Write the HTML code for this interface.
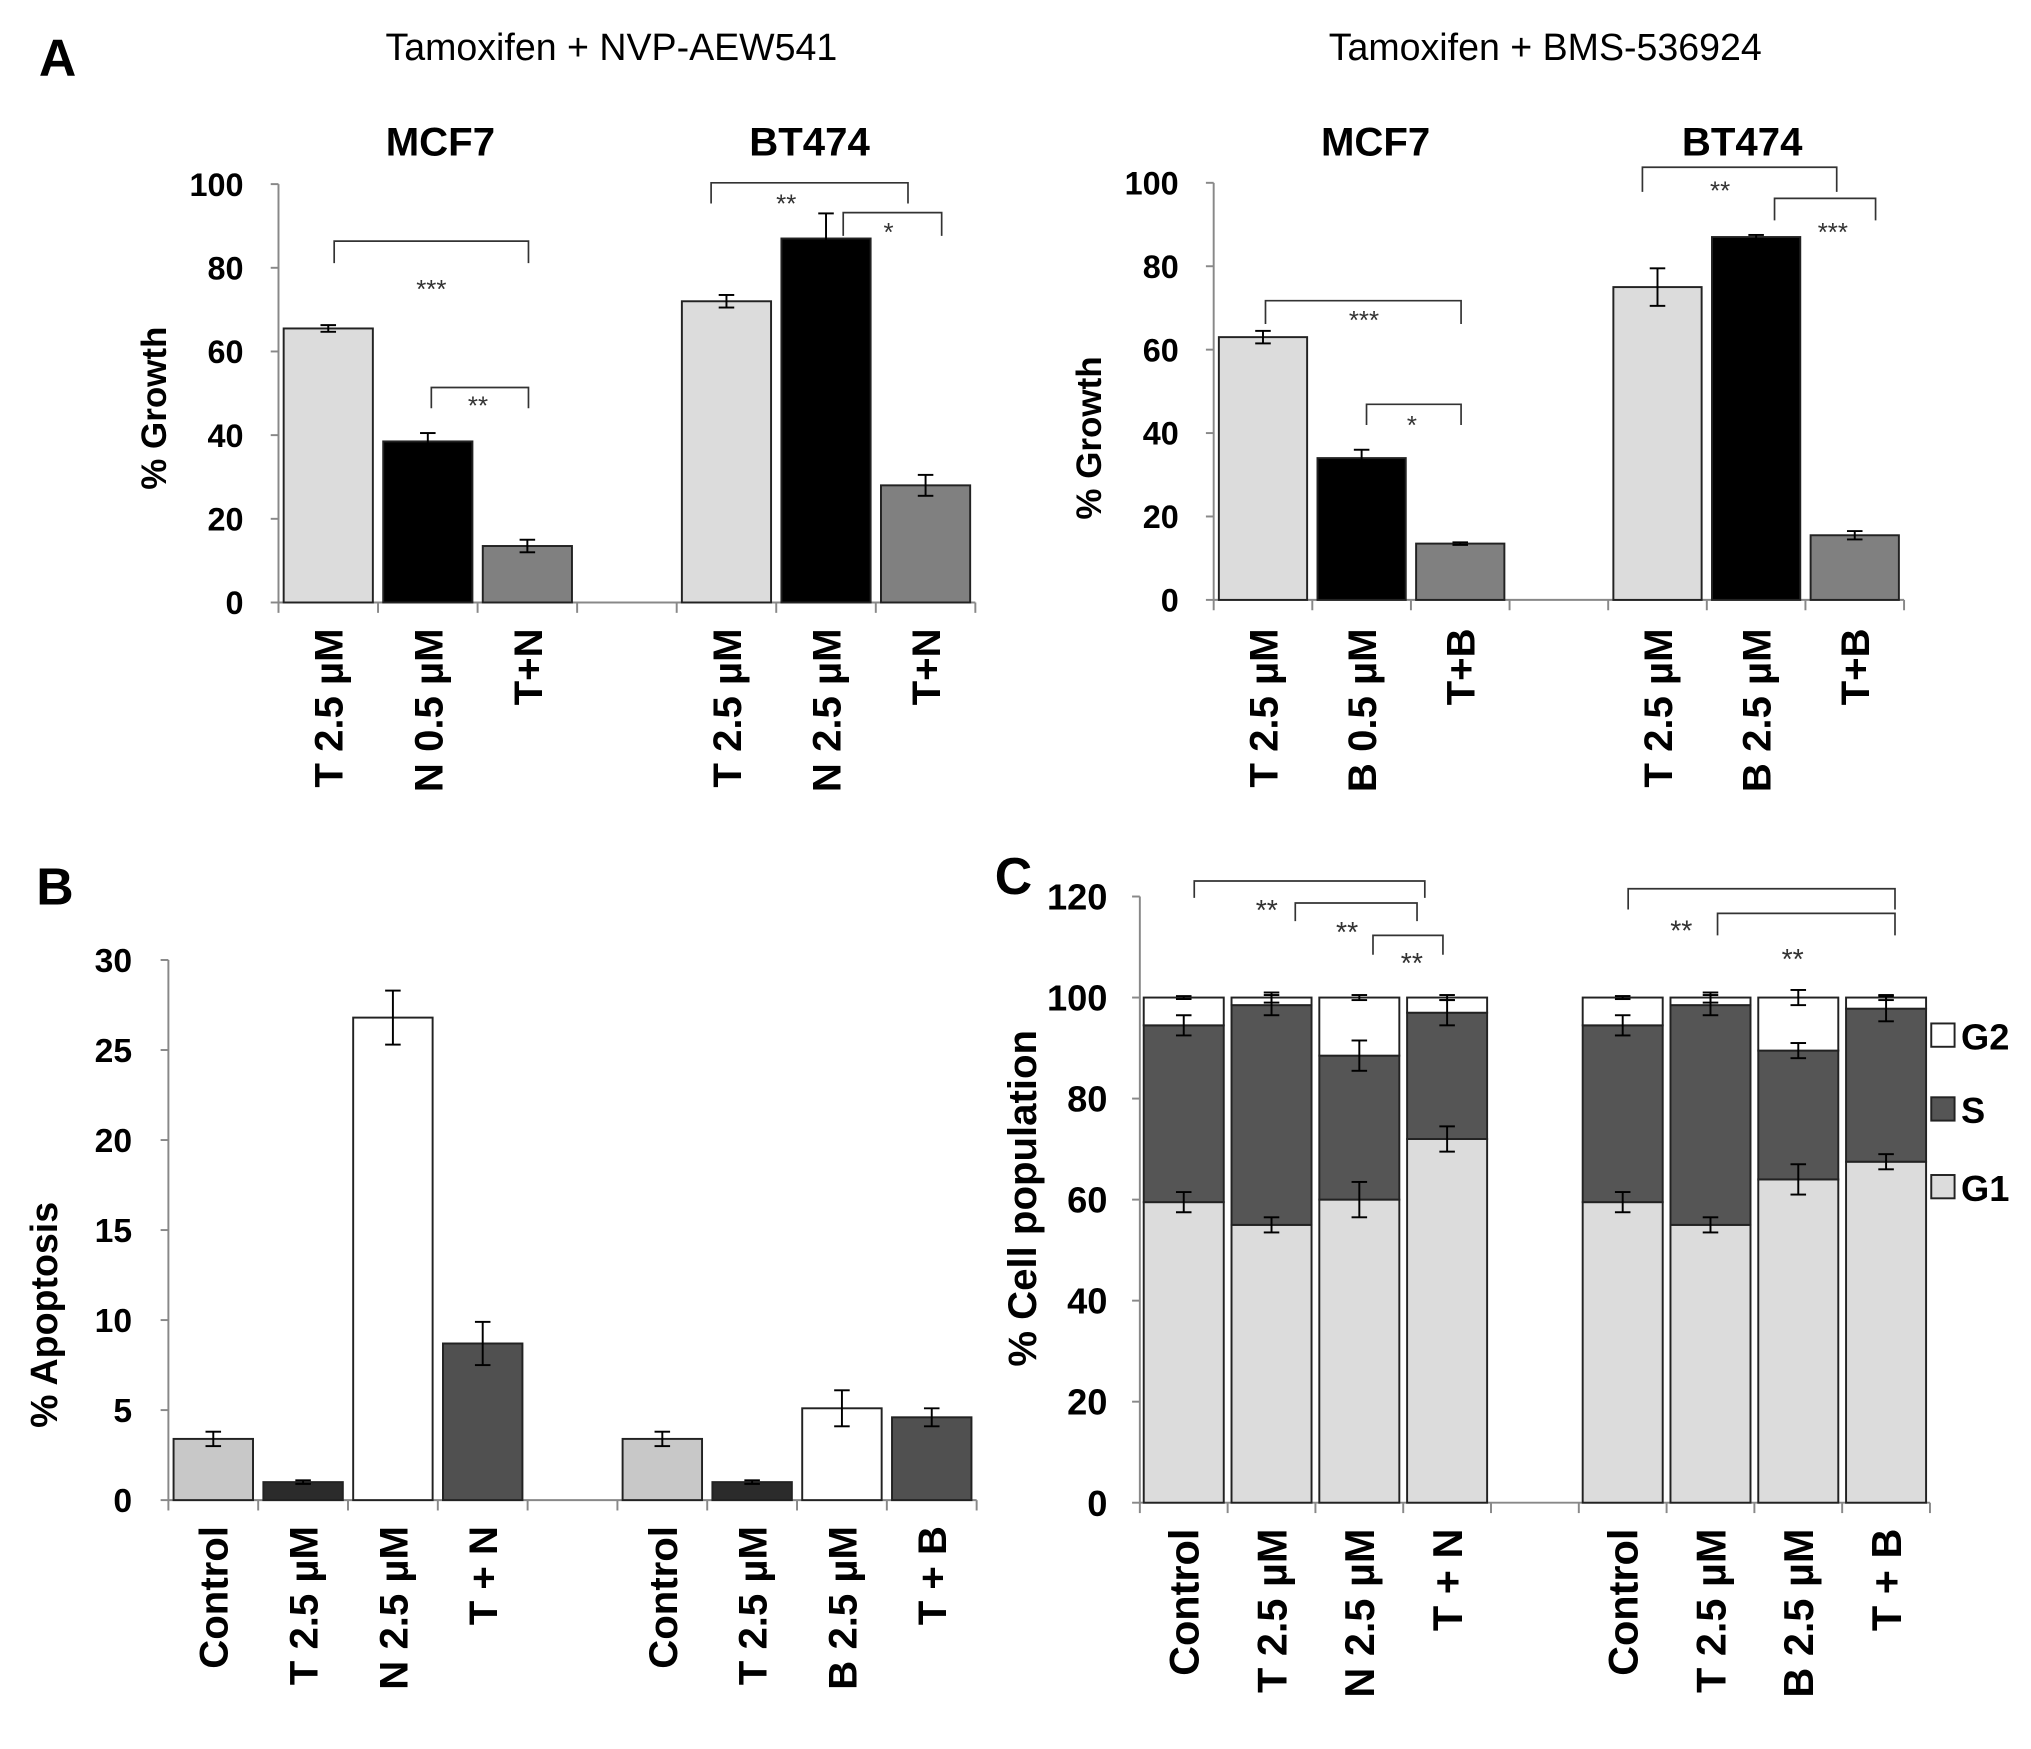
<!DOCTYPE html>
<html><head><meta charset="utf-8"><style>
html,body{margin:0;padding:0;background:#fff}
svg{display:block}
text{font-family:"Liberation Sans",Arial,sans-serif}
</style></head><body>
<svg id="fig" width="2031" height="1749" viewBox="0 0 1568 1350" xmlns="http://www.w3.org/2000/svg">
<rect width="1568" height="1350" fill="#fff"/>
<g id="root"></g>
</svg>
<script>
// ---- Panel A (left) data
const aLeftCats = ["T 2.5 µM","N 0.5 µM","T+N","","T 2.5 µM","N 2.5 µM","T+N"];
const aLeftVals = [65.5,38.5,13.5,null,72,87,28];
const aLeftErr = [0.8,2,1.5,null,1.5,6,2.5];
// ---- Panel A (right) data
const aRightCats = ["T 2.5 µM","B 0.5 µM","T+B","","T 2.5 µM","B 2.5 µM","T+B"];
const aRightVals = [63,34,13.5,null,75,87,15.5];
const aRightErr = [1.5,2,0.3,null,4.5,0.5,1];
const aTicks = [0,20,40,60,80,100];
// ---- Panel B data
const bCats = ["Control","T 2.5 µM","N 2.5 µM","T + N","","Control","T 2.5 µM","B 2.5 µM","T + B"];
const bVals = [3.4,1.0,26.8,8.7,null,3.4,1.0,5.1,4.6];
const bErr = [0.4,0.1,1.5,1.2,null,0.4,0.1,1.0,0.5];
const bTicks = [0,5,10,15,20,25,30];
// ---- Panel C data
const cCats = ["Control","T 2.5 µM","N 2.5 µM","T + N","","Control","T 2.5 µM","B 2.5 µM","T + B"];
const cG1 = [59.5,55,60,72,null,59.5,55,64,67.5];
const cS = [35,43.5,28.5,25,null,35,43.5,25.5,30.3];
const cG2 = [5.5,1.5,11.5,3,null,5.5,1.5,10.5,2.2];
const cG1Err = [2,1.5,3.5,2.5,null,2,1.5,3,1.5];
const cSErr = [2,2,3,2.5,null,2,2,1.5,2.5];
const cG2Err = [0.3,1,0.5,0.5,null,0.3,1,1.5,0.5];
const cTicks = [0,20,40,60,80,100,120];

const NS="http://www.w3.org/2000/svg";
const root=document.getElementById('root');
function el(tag,attrs,parent,text){
  const e=document.createElementNS(NS,tag);
  for(const k in attrs) e.setAttribute(k,attrs[k]);
  if(text!==undefined) e.textContent=text;
  (parent||root).appendChild(e);
  return e;
}
function errbar(g,cx,yv,ye,yfn){
  const y1=yfn(yv+ye), y2=yfn(yv-ye);
  el('line',{x1:cx,x2:cx,y1:y1,y2:y2,stroke:'#000','stroke-width':1.5},g);
  el('line',{x1:cx-6,x2:cx+6,y1:y1,y2:y1,stroke:'#000','stroke-width':1.5},g);
  el('line',{x1:cx-6,x2:cx+6,y1:y2,y2:y2,stroke:'#000','stroke-width':1.5},g);
}
function axes(g,x0,xEnd,y0,yTop,ticks,max,labelX,fs,n){
  const yfn=v=>y0-(v/max)*(y0-yTop);
  el('line',{x1:x0,x2:x0,y1:y0,y2:yTop,stroke:'#888','stroke-width':1.5},g);
  el('line',{x1:x0,x2:xEnd,y1:y0,y2:y0,stroke:'#888','stroke-width':1.5},g);
  ticks.forEach(t=>{
    el('line',{x1:x0-6,x2:x0,y1:yfn(t),y2:yfn(t),stroke:'#888','stroke-width':1.5},g);
    const tl=el('text',{x:labelX,y:yfn(t)+fs*0.36,'text-anchor':'end','font-size':fs,'font-weight':'bold'},g,String(t));
    
    
  });
  const slot=(xEnd-x0)/n;
  for(let i=0;i<=n;i++) el('line',{x1:x0+i*slot,x2:x0+i*slot,y1:y0,y2:y0+8,stroke:'#888','stroke-width':1.5},g);
  return {yfn,slot};
}
function catLabels(g,cats,x0,slot,top,fs){
  cats.forEach((c,i)=>{
    if(!c) return;
    const cx=x0+slot*(i+0.5);
    const t=el('text',{x:0,y:0,transform:`translate(${cx+fs*0.36},${top}) rotate(-90)`,'text-anchor':'end','font-size':fs,'font-weight':'bold'},g,c);
    
    
  });
}
function bracket(g,x1,x2,y,drop1,drop2,label,lx,ly,fs){
  el('path',{d:`M${x1},${y+drop1} V${y} H${x2} V${y+drop2}`,fill:'none',stroke:'#333','stroke-width':1.3},g);
  const t=el('text',{x:lx,y:ly,'text-anchor':'middle','font-size':fs||20,fill:'#333'},g,label);
  
  
}
function txt(g,x,y,s,fs,bold,anchor,name,transform){
  const a={x:x,y:y,'font-size':fs,'text-anchor':anchor||'middle'};
  if(bold) a['font-weight']='bold';
  if(transform) a.transform=transform;
  const t=el('text',a,g,s);
  
  
  return t;
}
function simpleBars(gname,cats,vals,errs,colors,x0,xEnd,y0,yTop,ticks,max,labelX,tickFs,labTop,labFs,pad){
  const g=el('g',{});
  
  
  const n=cats.length;
  const ax=axes(g,x0,xEnd,y0,yTop,ticks,max,labelX,tickFs,n);
  vals.forEach((v,i)=>{
    if(v===null) return;
    const xL=x0+ax.slot*i+pad, w=ax.slot-2*pad;
    const r=el('rect',{x:xL,y:ax.yfn(v),width:w,height:y0-ax.yfn(v),fill:colors[i],stroke:'#222','stroke-width':1.5},g);
    
    
    errbar(g,xL+w/2,v,errs[i],ax.yfn);
  });
  catLabels(g,cats,x0,ax.slot,labTop,labFs);
  return g;
}
// Panel A left
const aCol=['#dcdcdc','#000','#808080',null,'#dcdcdc','#000','#808080'];
const gAL=simpleBars('panel-a-left-chart',aLeftCats,aLeftVals,aLeftErr,aCol,215,753,465,142,aTicks,100,188,25,485,31,4);
txt(gAL,30,58,'A',40,true,'start','panel-a-label');
txt(gAL,472,46,'Tamoxifen  + NVP-AEW541',29,false,'middle','panel-a-left-title');
txt(gAL,340,120,'MCF7',31,true,'middle','group-title-mcf7');
txt(gAL,625,120,'BT474',31,true,'middle','group-title-bt474');
txt(gAL,0,0,'% Growth',27,true,'middle','y-axis-title','translate(128,315) rotate(-90)');
bracket(gAL,258,408,186,17,17,'***',333,230);
bracket(gAL,333,408,299,16,16,'**',369,320);
bracket(gAL,549,701,141,16,16,'**',607,164);
bracket(gAL,651,727,164,18,18,'*',686,186);
// Panel A right
const gAR=simpleBars('panel-a-right-chart',aRightCats,aRightVals,aRightErr,aCol,937,1470,463,141,aTicks,100,910,25,485,31,4);
txt(gAR,1193,46,'Tamoxifen  + BMS-536924',29,false,'middle','panel-a-right-title');
txt(gAR,1062,120,'MCF7',31,true,'middle','group-title-mcf7');
txt(gAR,1345,120,'BT474',31,true,'middle','group-title-bt474');
txt(gAR,0,0,'% Growth',27,true,'middle','y-axis-title','translate(850,338) rotate(-90)');
bracket(gAR,977,1128,232,18,18,'***',1053,254);
bracket(gAR,1055,1128,312,16,16,'*',1090,335);
bracket(gAR,1268,1418,129,19,19,'**',1328,154);
bracket(gAR,1370,1448,153,17,17,'***',1415,186);
// Panel B
const bCol=['#c8c8c8','#2b2b2b','#ffffff','#505050',null,'#c8c8c8','#2b2b2b','#ffffff','#505050'];
const gB=simpleBars('panel-b-chart',bCats,bVals,bErr,bCol,130,754,1158,741,bTicks,30,102,26,1178,31,4);
txt(gB,28,698,'B',40,true,'start','panel-b-label');
txt(gB,0,0,'% Apoptosis',29,true,'middle','y-axis-title','translate(44,1015) rotate(-90)');
// Panel C
(function(){
  const g=el('g',{});
  
  
  const x0=880,xEnd=1490,y0=1160,yTop=692;
  const ax=axes(g,x0,xEnd,y0,yTop,cTicks,120,855,28,cCats.length);
  const pad=3;
  cCats.forEach((c,i)=>{
    if(cG1[i]===null) return;
    const xL=x0+ax.slot*i+pad,w=ax.slot-2*pad,cx=xL+w/2;
    const segs=[[cG1[i],'#dcdcdc','segment-g1'],[cS[i],'#555555','segment-s'],[cG2[i],'#ffffff','segment-g2']];
    let base=0;
    segs.forEach(s=>{
      const r=el('rect',{x:xL,y:ax.yfn(base+s[0]),width:w,height:ax.yfn(base)-ax.yfn(base+s[0]),fill:s[1],stroke:'#222','stroke-width':1.5},g);
      
      
      base+=s[0];
    });
    errbar(g,cx,cG1[i],cG1Err[i],ax.yfn);
    errbar(g,cx,cG1[i]+cS[i],cSErr[i],ax.yfn);
    errbar(g,cx,cG1[i]+cS[i]+cG2[i],cG2Err[i],ax.yfn);
  });
  catLabels(g,cCats,x0,ax.slot,1180,32);
  txt(g,768,690,'C',40,true,'start','panel-c-label');
  txt(g,0,0,'% Cell population',31,true,'middle','y-axis-title','translate(800,925) rotate(-90)');
  const leg=[['G2','#ffffff',800],['S','#555555',857],['G1','#dcdcdc',917]];
  leg.forEach(l=>{
    const r=el('rect',{x:1491,y:l[2]-10,width:18,height:18,fill:l[1],stroke:'#222','stroke-width':1.5},g);
    
    
    txt(g,1514,l[2]+10,l[0],28,true,'start','legend-entry-'+l[0].toLowerCase());
  });
  bracket(g,922,1100,680,13,13,'**',978,710,22);
  bracket(g,1000,1094,697,14,14,'**',1040,727,22);
  bracket(g,1060,1114,722,15,15,'**',1090,751,22);
  bracket(g,1257,1463,686,16,16,'**',1298,726,22);
  bracket(g,1326,1463,705,17,17,'**',1384,748,22);
})();
</script>
</body></html>
